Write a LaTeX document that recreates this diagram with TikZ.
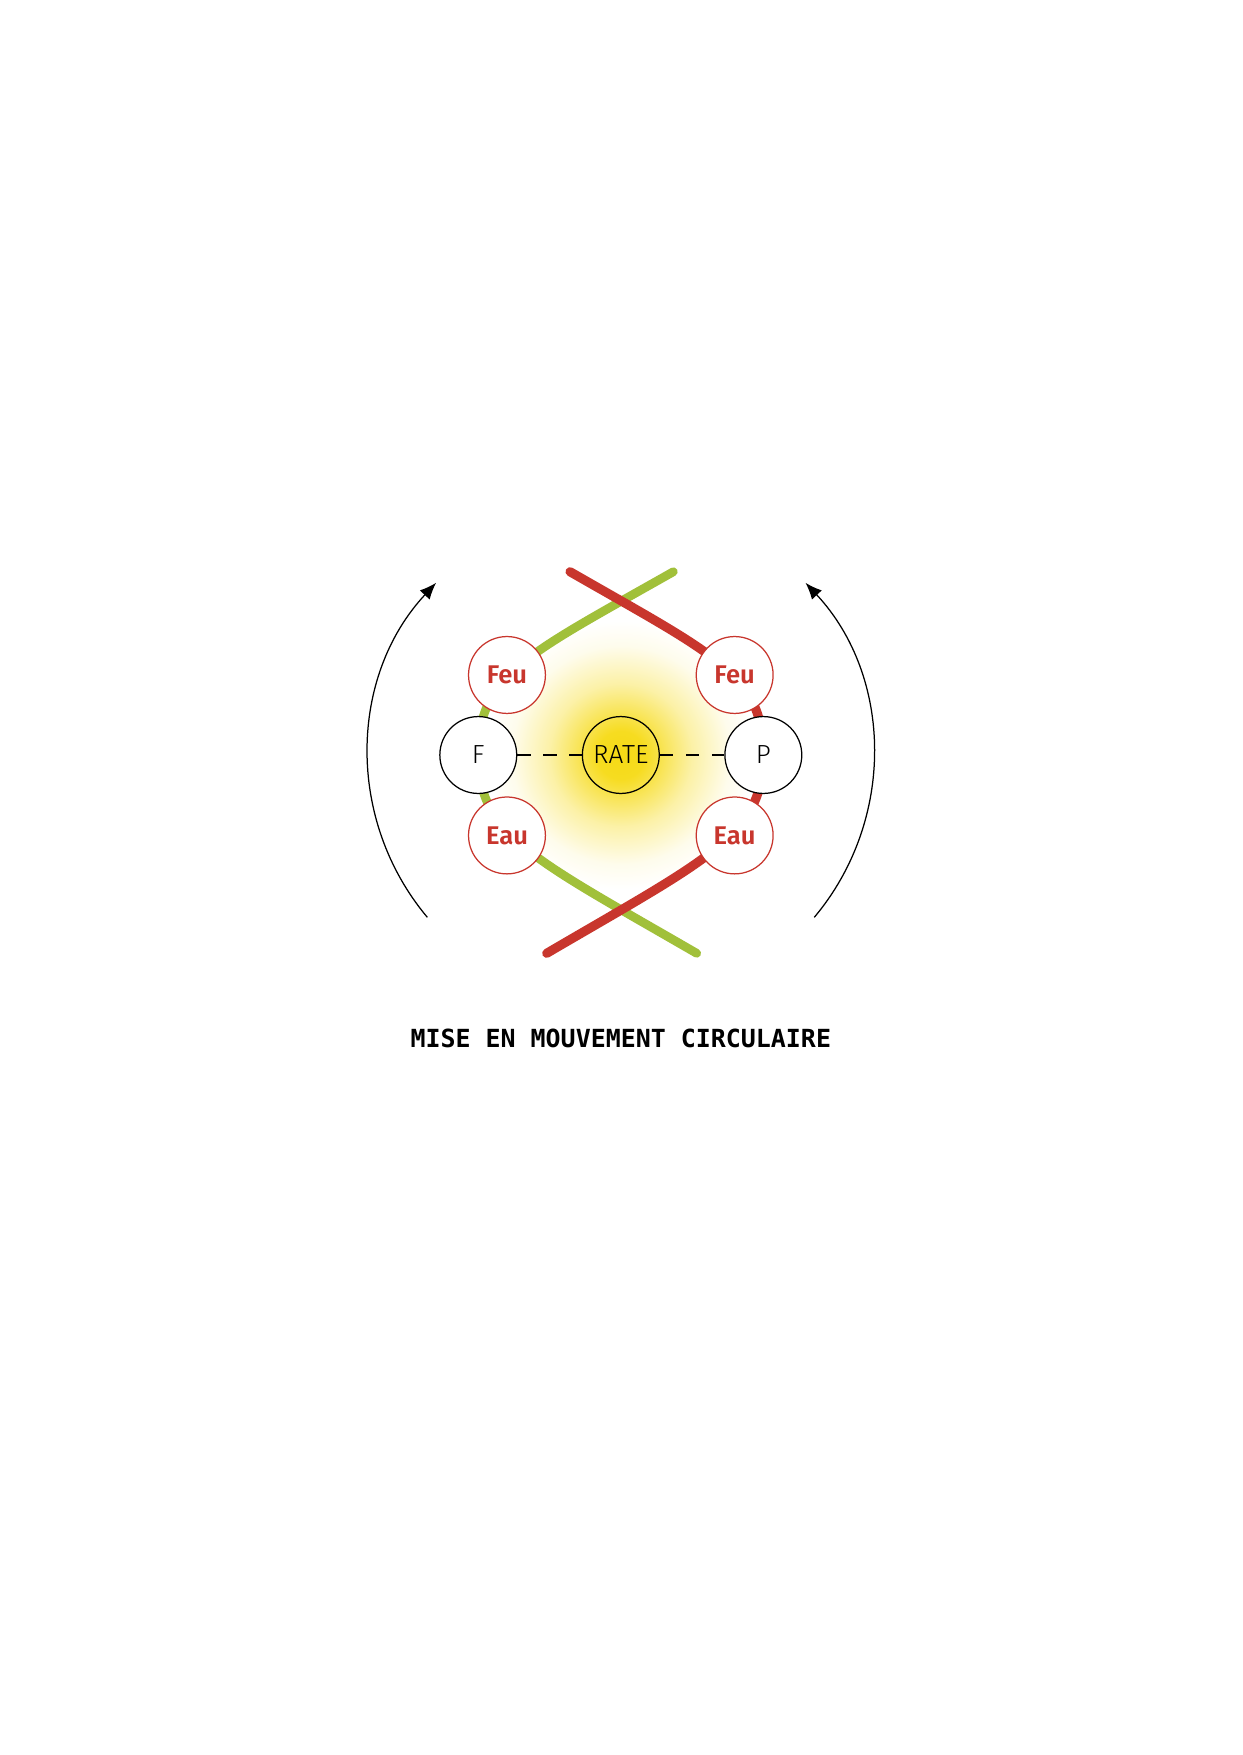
\documentclass[tikz,border=0pt]{standalone}
\usepackage{fontspec}
\usepackage{tikz}
\usetikzlibrary{arrows.meta}
\newfontfamily\thinfont{Fira Sans Light}
\newfontfamily\elemfont{Fira Sans SemiBold}
\newfontfamily\capfont{DejaVu Sans Mono Bold}
\definecolor{firered}{HTML}{C8362D}
\definecolor{leafgreen}{HTML}{A1C03A}
\definecolor{sunyellow}{HTML}{F6DA15}
\pgfdeclareradialshading{glow}{\pgfpoint{0bp}{0bp}}{color(0bp)=(sunyellow); color(2.9bp)=(sunyellow!95!white); color(4.6bp)=(sunyellow!78!white); color(8.6bp)=(sunyellow!38!white); color(13.2bp)=(sunyellow!8!white); color(16.2bp)=(white); color(50bp)=(white)}

\begin{document}
\begin{tikzpicture}[
    pole/.style={circle, draw=black, line width=0.6pt, fill=white, minimum size=1.3cm, inner sep=0pt, text=black, font=\thinfont\fontsize{12.6}{14}\selectfont},
    elem/.style={circle, draw=firered, line width=0.6pt, fill=white, minimum size=1.3cm, inner sep=0pt, text=firered, font=\elemfont\fontsize{12.3}{14}\selectfont},
    strand/.style={line width=4.4pt, line cap=round},
    link/.style={line width=0.5pt, dash pattern=on 6.5pt off 6pt},
    turn/.style={line width=0.6pt, -{Latex[length=8pt,width=6.5pt]}}]
  \useasboundingbox (-10.497,-16.908) rectangle (10.503,12.766);
  % lueur
  \shade[shading=glow] (0,0) circle (3.5);
  % brins
  \draw[strand, leafgreen, line width=4.2pt] (0.888,3.099) .. controls (-1.613,1.681) and (-2.41,1.353) .. (-2.41,0)
        .. controls (-2.41,-1.353) and (-1.496,-1.743) .. (1.283,-3.353);
  \draw[strand, firered] (-0.859,3.099) .. controls (1.613,1.681) and (2.41,1.353) .. (2.41,0)
        .. controls (2.41,-1.353) and (1.496,-1.743) .. (-1.253,-3.353);
  % cercles
  \node[pole] (F) at (-2.41,0) {F};
  \node[pole] (P) at (2.41,0) {P};
  \node[pole, fill=none] (rate) at (0,0) {RATE};
  \node[elem] (feuF) at (-1.925,1.353) {Feu};
  \node[elem] (feuP) at (1.925,1.353) {Feu};
  \node[elem] (eauF) at (-1.925,-1.36) {Eau};
  \node[elem] (eauP) at (1.925,-1.36) {Eau};
  \draw[link] (F) -- (rate);
  \draw[link] (rate) -- (P);
  % fleches
  \draw[turn] (220:4.27) arc[start angle=220, end angle=137, radius=4.27];
  \draw[turn] (-40:4.27) arc[start angle=-40, end angle=43, radius=4.27];
  \node[font=\capfont\fontsize{12}{14}\selectfont] (caption) at (0,-4.80) {MISE EN MOUVEMENT CIRCULAIRE};
\end{tikzpicture}
\end{document}
